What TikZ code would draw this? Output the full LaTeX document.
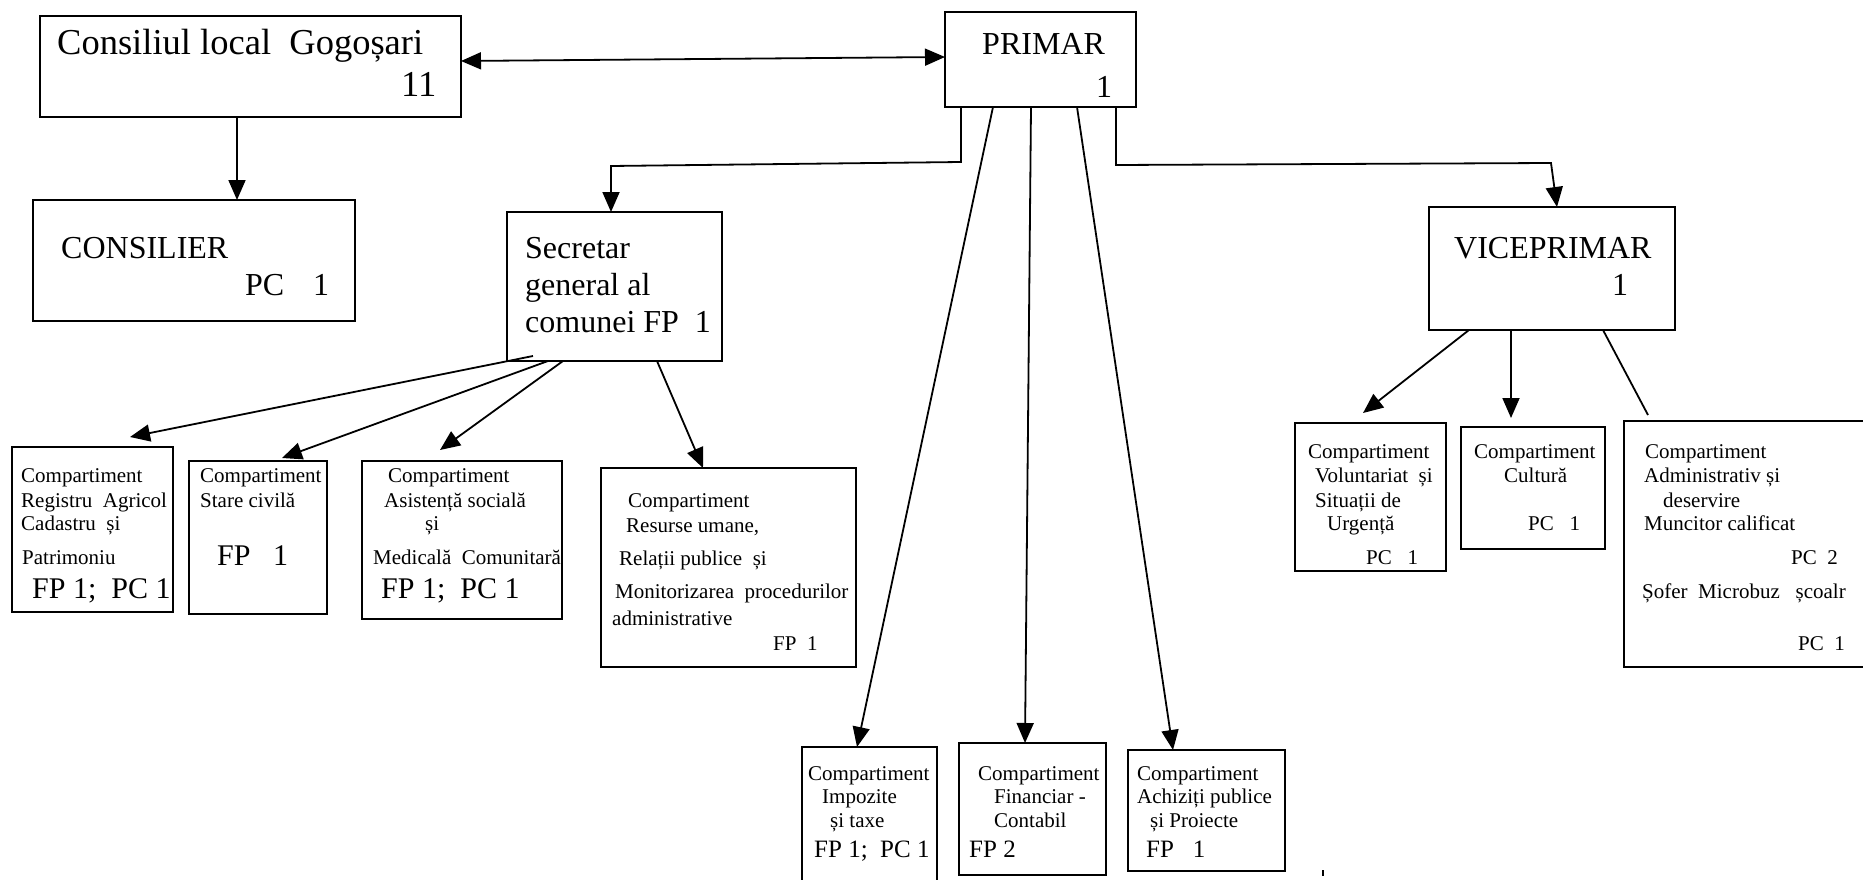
\documentclass[tikz,border=0pt]{standalone}
\usepackage{fontspec}
\setmainfont{Liberation Serif}
\usetikzlibrary{arrows.meta}
\tikzstyle{chart} = [x = 1pt, y = -1pt]
\tikzstyle{boxStyle} = [draw, line width = 2.1pt, anchor = north west, inner sep = 0pt, outer sep = 0pt]
\tikzstyle{linkLine} = [line width = 1.8pt]
\tikzstyle{arrowLine} = [linkLine, -{Triangle[length = 20pt, width = 17pt]}]
\tikzstyle{lineText} = [anchor = base west, inner sep = 0pt, font = \smallFont]
\newcommand{\hugeFont}{\fontsize{36.5}{43}\selectfont}
\newcommand{\bigFont}{\fontsize{32}{38}\selectfont}
\newcommand{\mediumFont}{\fontsize{30}{36}\selectfont}
\newcommand{\lowFont}{\fontsize{25}{30}\selectfont}
\newcommand{\smallFont}{\fontsize{21}{25}\selectfont}
\newcommand{\orgBox}[5]{\node [boxStyle, minimum width = #4pt, minimum height = #5pt] (#1) at (#2,#3) {};}
\newcommand{\boxLines}[2]{
  \foreach \lineX/\lineY/\lineText [count=\lineNo] in {#2} {
    \node [lineText] (#1-\lineNo) at (\lineX,\lineY) {\lineText};
  }
}
\begin{document}
\begin{tikzpicture}[chart]
  \useasboundingbox (0,0) rectangle (1863,880);
  \clip (0,0) rectangle (1863,880);

  % boxes
  \orgBox{consiliul}{40}{16}{421}{101}
  \orgBox{primar}{945}{12}{191}{95}
  \orgBox{consilier}{33}{200}{322}{121}
  \orgBox{secretar}{507}{212}{215}{149}
  \orgBox{viceprimar}{1429}{207}{246}{123}
  \orgBox{registru}{12}{447}{161}{165}
  \orgBox{stare}{189}{461}{138}{153}
  \orgBox{asistenta}{362}{461}{200}{158}
  \orgBox{resurse}{601}{468}{255}{199}
  \orgBox{impozite}{802}{747}{135}{160}
  \orgBox{financiar}{959}{743}{147}{132}
  \orgBox{achizitii}{1128}{750}{157}{121}
  \orgBox{voluntariat}{1295}{423}{151}{148}
  \orgBox{cultura}{1461}{427}{144}{122}
  \orgBox{administrativ}{1624}{421}{276}{246}

  % texts
  \boxLines{consiliulText}{57/55/{\hugeFont Consiliul local~ Gogoșari}, 401/97/{\hugeFont 11}}
  \boxLines{primarText}{982/55/{\bigFont PRIMAR}, 1096/98/{\bigFont 1}}
  \boxLines{consilierText}{61/258/{\bigFont CONSILIER}, 245/295/{\bigFont PC\hspace{0.9em}1}}
  \boxLines{secretarText}{525/258/{\bigFont Secretar}, 525/295/{\bigFont general al}, 525/332/{\bigFont comunei FP~ 1}}
  \boxLines{viceprimarText}{1454/258/{\bigFont VICEPRIMAR}, 1612/295/{\bigFont 1}}
  \boxLines{registruText}{21/482/Compartiment, 21/507/Registru~ Agricol, 21/530/Cadastru~ și,
    22/564/Patrimoniu, 32/598/{\mediumFont FP 1;~ PC 1}}
  \boxLines{stareText}{200/482/Compartiment, 200/507/Stare civilă, 217/565/{\mediumFont FP\hspace{0.75em}1}}
  \boxLines{asistentaText}{388/482/Compartiment, 384/507/Asistență socială, 425/530/și,
    373/564/Medicală~ Comunitară, 381/598/{\mediumFont FP 1;~ PC 1}}
  \boxLines{resurseText}{628/507/Compartiment, 626/532/{Resurse umane,}, 619/565/Relații publice~ și,
    615/598/Monitorizarea~ procedurilor, 612/625/administrative, 773/650/FP~ 1}
  \boxLines{impoziteText}{808/780/Compartiment, 822/803/Impozite, 830/827/și taxe, 814/857/{\lowFont FP 1;~ PC 1}}
  \boxLines{financiarText}{978/780/Compartiment, 994/803/Financiar -, 994/827/Contabil, 969/857/{\lowFont FP 2}}
  \boxLines{achizitiiText}{1137/780/Compartiment, 1137/803/Achiziți publice, 1150/827/și Proiecte, 1146/857/{\lowFont FP~~ 1}}
  \boxLines{voluntariatText}{1308/458/Compartiment, 1315/482/Voluntariat~ și, 1315/507/Situații de,
    1327/530/Urgență, 1366/564/PC~~ 1}
  \boxLines{culturaText}{1474/458/Compartiment, 1504/482/Cultură, 1528/530/PC~~ 1}
  \boxLines{administrativText}{1645/458/Compartiment, 1644/482/Administrativ și, 1663/507/deservire,
    1644/530/Muncitor calificat, 1791/564/PC~ 2, 1642/598/Șofer~ Microbuz~~ școalr, 1798/650/PC~ 1}

  % connectors
  \draw [linkLine, {Triangle[length = 20pt, width = 17pt]}-{Triangle[length = 20pt, width = 17pt]}]
    ([yshift=5.5pt]consiliul.east) -- ([yshift=2.5pt]primar.west);
  \draw [arrowLine] ([xshift=197pt]consiliul.south west) -- ([xshift=204pt]consilier.north west);
  \draw [arrowLine] ([xshift=16pt]primar.south west) -- ++(0,55) -- ++(-350,4) -- ([xshift=104pt]secretar.north west);
  \draw [arrowLine] ([xshift=-20pt]primar.south east) -- ++(0,58) -- ++(435,-2) -- ([xshift=128pt]viceprimar.north west);
  \draw [arrowLine] ([xshift=48pt]primar.south west) -- ([xshift=55pt]impozite.north west);
  \draw [arrowLine] ([xshift=86pt]primar.south west) -- ([xshift=66pt]financiar.north west);
  \draw [arrowLine] ([xshift=132pt]primar.south west) -- ([xshift=45pt]achizitii.north west);
  \draw [arrowLine] ([xshift=26pt, yshift=5pt]secretar.south west) -- ([xshift=118pt, yshift=10pt]registru.north west);
  \draw [arrowLine] ([xshift=41pt]secretar.south west) -- ([xshift=93pt, yshift=3pt]stare.north west);
  \draw [arrowLine] ([xshift=56pt]secretar.south west) -- ([xshift=78pt, yshift=11pt]asistenta.north west);
  \draw [arrowLine] ([xshift=150pt]secretar.south west) -- ([xshift=102pt]resurse.north west);
  \draw [arrowLine] ([xshift=40pt]viceprimar.south west) -- ([xshift=68pt, yshift=10pt]voluntariat.north west);
  \draw [arrowLine] ([xshift=82pt]viceprimar.south west) -- ([xshift=50pt, yshift=9pt]cultura.north west);
  \draw [linkLine] ([xshift=174pt]viceprimar.south west) -- ([xshift=24pt, yshift=6pt]administrativ.north west);
  \draw [linkLine] (1323,870) -- (1323,876);
\end{tikzpicture}
\end{document}
